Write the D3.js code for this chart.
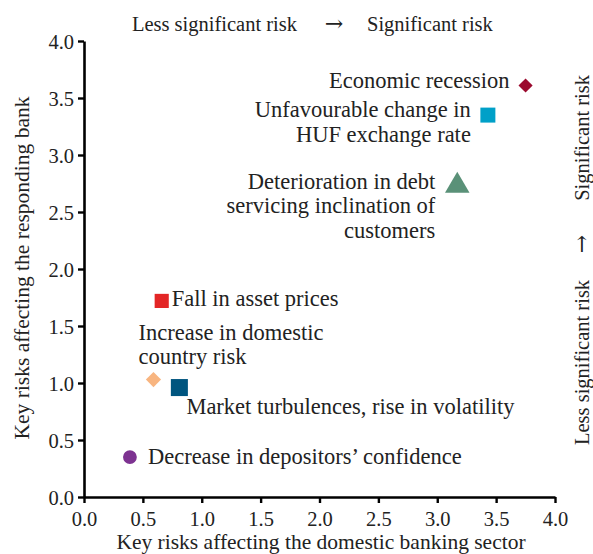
<!DOCTYPE html>
<html>
<head>
<meta charset="utf-8">
<script src="https://cdn.jsdelivr.net/npm/d3@7"></script>
<style>
  html, body { margin: 0; padding: 0; background: #fff; }
  svg text { font-family: "Liberation Serif", "DejaVu Serif", serif; fill: #222; }
</style>
</head>
<body>
<svg id="chart" width="593" height="554"></svg>
<script>
// ---- data ----
const riskNames = [
  ["Economic recession"],
  ["Unfavourable change in", "HUF exchange rate"],
  ["Deterioration in debt", "servicing inclination of", "customers"],
  ["Fall in asset prices"],
  ["Increase in domestic", "country risk"],
  ["Market turbulences, rise in volatility"],
  ["Decrease in depositors’ confidence"]
];
const sectorValues = [3.75, 3.43, 3.17, 0.66, 0.59, 0.81, 0.39];
const bankValues   = [3.61, 3.35, 2.73, 1.72, 1.03, 0.96, 0.35];
const tickValues = [0, 0.5, 1, 1.5, 2, 2.5, 3, 3.5, 4];
const xTitle = "Key risks affecting the domestic banking sector";
const yTitle = "Key risks affecting the responding bank";
const noteLow = "Less significant risk";
const noteHigh = "Significant risk";
const noteArrow = "\u2192";

// ---- styles (separate from data) ----
const markerShapes = ["diamond", "square", "triangle", "square", "diamond", "square", "circle"];
const markerSizes  = [100, 225, 260, 200, 115, 290, 150];
const markerColors = ["#9b0a2e", "#00a0c8", "#5a9178", "#e32626", "#f8b580", "#00557f", "#7d3391"];
// label placement: [dx, dy of first baseline, anchor]
const labelLayout = [
  [-16, 3, "end"],
  [-17, 2, "end"],
  [-22, 3, "end"],
  [10, 5, "start"],
  [-15, -40, "start"],
  [7, 26, "start"],
  [18, 7, "start"]
];
const lineHeight = 24.5;
const labelFont = 22.5;
const noteFont = 20.5;

const svg = d3.select("#chart");
const x = d3.scaleLinear().domain([0, 4]).range([84, 555]);
const y = d3.scaleLinear().domain([0, 4]).range([497, 41]);

const fmt = d3.format(".1f");

const xAxis = svg.append("g")
  .attr("transform", `translate(0,${y(0)})`)
  .call(d3.axisBottom(x).tickValues(tickValues).tickFormat(fmt).tickSize(6).tickSizeOuter(0).tickPadding(8));
const yAxis = svg.append("g")
  .attr("transform", `translate(${x(0)},0)`)
  .call(d3.axisLeft(y).tickValues(tickValues).tickFormat(fmt).tickSize(6).tickSizeOuter(0).tickPadding(4));

[xAxis, yAxis].forEach(g => {
  g.select(".domain").attr("stroke", "#000").attr("stroke-width", 2.6);
  g.selectAll(".tick line").attr("stroke", "#000").attr("stroke-width", 2.4);
  g.selectAll(".tick text").attr("font-size", 20.5).attr("fill", "#222")
    .attr("font-family", "Liberation Serif, serif");
});
yAxis.selectAll(".tick text").attr("dy", "0.35em");

// axis titles
svg.append("text")
  .attr("x", 321).attr("y", 549)
  .attr("text-anchor", "middle").attr("font-size", 21.5)
  .text(xTitle);
svg.append("text")
  .attr("transform", `translate(29,268) rotate(-90)`)
  .attr("text-anchor", "middle").attr("font-size", 21.5)
  .text(yTitle);

// top note
const topNote = svg.append("g").attr("font-size", noteFont);
topNote.append("text").attr("x", 297).attr("y", 31).attr("text-anchor", "end").text(noteLow);
topNote.append("text").attr("x", 334).attr("y", 31).attr("text-anchor", "middle")
  .style("font-family", "DejaVu Serif, serif").attr("font-size", 22).text(noteArrow);
topNote.append("text").attr("x", 367).attr("y", 31).attr("text-anchor", "start").text(noteHigh);

// side note (rotated)
const sideNote = svg.append("g").attr("font-size", noteFont)
  .attr("transform", "translate(589,0) rotate(-90)");
sideNote.append("text").attr("x", -445).attr("y", 0).attr("text-anchor", "start").text(noteLow);
sideNote.append("text").attr("x", -244).attr("y", 0).attr("text-anchor", "middle")
  .style("font-family", "DejaVu Serif, serif").attr("font-size", 22).text(noteArrow);
sideNote.append("text").attr("x", -75).attr("y", 0).attr("text-anchor", "end").text(noteHigh);

// markers
const pts = riskNames.map((n, i) => ({ name: n, sx: sectorValues[i], by: bankValues[i], i }));
const symType = { square: d3.symbolSquare, diamond: d3.symbolSquare, triangle: d3.symbolTriangle, circle: d3.symbolCircle };

svg.append("g").selectAll("path")
  .data(pts).join("path")
  .attr("transform", d => `translate(${x(d.sx)},${y(d.by)})` + (markerShapes[d.i] === "diamond" ? " rotate(45)" : ""))
  .attr("d", d => d3.symbol().type(symType[markerShapes[d.i]]).size(markerSizes[d.i])())
  .attr("fill", d => markerColors[d.i]);

// labels
const lbl = svg.append("g").selectAll("text")
  .data(pts).join("text")
  .attr("font-size", labelFont)
  .attr("text-anchor", d => labelLayout[d.i][2])
  .attr("x", d => x(d.sx) + labelLayout[d.i][0])
  .attr("y", d => y(d.by) + labelLayout[d.i][1]);
lbl.selectAll("tspan")
  .data(d => d.name.map((t, k) => ({ t, k, d })))
  .join("tspan")
  .attr("x", o => x(o.d.sx) + labelLayout[o.d.i][0])
  .attr("dy", o => o.k === 0 ? 0 : lineHeight)
  .text(o => o.t);
</script>
</body>
</html>
